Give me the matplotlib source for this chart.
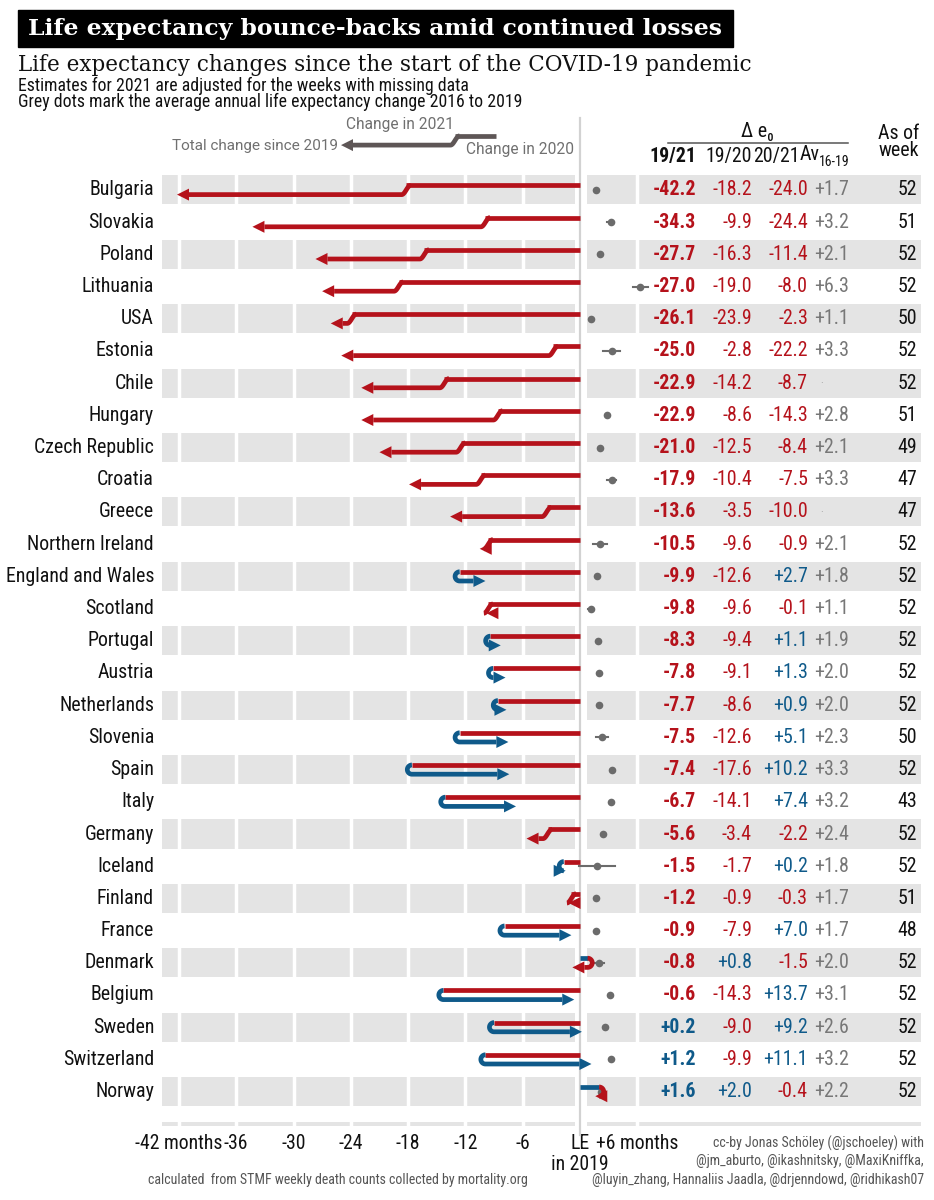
import numpy as np
import matplotlib.pyplot as plt
from matplotlib.patches import Rectangle

# Data (changes in months of life expectancy)
countries = ['Bulgaria', 'Slovakia', 'Poland', 'Lithuania', 'USA', 'Estonia', 'Chile',
             'Hungary', 'Czech Republic', 'Croatia', 'Greece', 'Northern Ireland',
             'England and Wales', 'Scotland', 'Portugal', 'Austria', 'Netherlands',
             'Slovenia', 'Spain', 'Italy', 'Germany', 'Iceland', 'Finland', 'France',
             'Denmark', 'Belgium', 'Sweden', 'Switzerland', 'Norway']
chg_1921 = [-42.2, -34.3, -27.7, -27.0, -26.1, -25.0, -22.9, -22.9, -21.0, -17.9, -13.6,
            -10.5, -9.9, -9.8, -8.3, -7.8, -7.7, -7.5, -7.4, -6.7, -5.6, -1.5, -1.2,
            -0.9, -0.8, -0.6, 0.2, 1.2, 1.6]
chg_1920 = [-18.2, -9.9, -16.3, -19.0, -23.9, -2.8, -14.2, -8.6, -12.5, -10.4, -3.5,
            -9.6, -12.6, -9.6, -9.4, -9.1, -8.6, -12.6, -17.6, -14.1, -3.4, -1.7, -0.9,
            -7.9, 0.8, -14.3, -9.0, -9.9, 2.0]
chg_2021 = [-24.0, -24.4, -11.4, -8.0, -2.3, -22.2, -8.7, -14.3, -8.4, -7.5, -10.0,
            -0.9, 2.7, -0.1, 1.1, 1.3, 0.9, 5.1, 10.2, 7.4, -2.2, 0.2, -0.3, 7.0, -1.5,
            13.7, 9.2, 11.1, -0.4]
av_1619 = [1.7, 3.2, 2.1, 6.3, 1.1, 3.3, np.nan, 2.8, 2.1, 3.3, np.nan, 2.1, 1.8, 1.1,
           1.9, 2.0, 2.0, 2.3, 3.3, 3.2, 2.4, 1.8, 1.7, 1.7, 2.0, 3.1, 2.6, 3.2, 2.2]
av_err = [0, 0.4, 0, 0.8, 0, 0.9, 0, 0, 0, 0.5, 0, 0.7, 0, 0.3, 0, 0, 0, 0.6, 0, 0, 0,
          1.9, 0, 0, 0.5, 0, 0, 0, 0]
as_of_week = [52, 51, 52, 52, 50, 52, 52, 51, 49, 47, 47, 52, 52, 52, 52, 52, 52, 50,
              52, 43, 52, 52, 51, 48, 52, 52, 52, 52, 52]
xticks = [-42, -36, -30, -24, -18, -12, -6, 0, 6]
xtick_labels = ['-42 months', '-36', '-30', '-24', '-18', '-12', '-6', 'LE', '+6 months']

RED = '#b5121b'
BLUE = '#0f5a8a'
DOT = '#6b6b6b'
STRIPE = '#e4e4e4'
LEG = '#5e5656'
FS = 14.3

COND = ['Roboto Condensed', 'Liberation Sans Narrow', 'DejaVu Sans']
plt.rcParams['font.family'] = COND

# pixel geometry of the panel
PX_MONTH = 9.55
PX_ROW = 32.2
X0, Y0 = 580, 190


def mx(px):
    # figure pixel -> months
    return (px - X0) / PX_MONTH


def ry(py):
    # figure pixel -> row
    return (py - Y0) / PX_ROW


fig = plt.figure(figsize=(9.34, 12), dpi=100)
ax = fig.add_axes([160 / 934, 1 - 1128 / 1200, 765 / 934, (1128 - 110) / 1200])
ax.set_xlim(mx(160), mx(925))
ax.set_ylim(ry(1128), ry(110))
for s in ax.spines.values():
    s.set_visible(False)
ax.set_yticks([])
ax.set_xticks(xticks)
ax.set_xticklabels(xtick_labels, fontsize=14.2, color='#111111')
ax.tick_params(axis='x', length=0, pad=4)
# nudge the last tick label so it does not run into "LE"
ax.get_xticklabels()[-1].set_x(6.7)
ax.text(0, ry(1164), 'in 2019', ha='center', va='center', fontsize=14.2, color='#111111')

# background stripes
n = len(countries)
sh = 29 / PX_ROW
for i in range(0, n, 2):
    ax.add_patch(Rectangle((mx(162), i - sh / 2), mx(575) - mx(162), sh, color=STRIPE, lw=0, zorder=0))
    ax.add_patch(Rectangle((mx(587), i - sh / 2), mx(921) - mx(587), sh, color=STRIPE, lw=0, zorder=0))
bh = 4 / PX_ROW
ax.add_patch(Rectangle((mx(162), n - bh / 2), mx(575) - mx(162), bh, color=STRIPE, lw=0, zorder=0))
ax.add_patch(Rectangle((mx(587), n - bh / 2), mx(921) - mx(587), bh, color=STRIPE, lw=0, zorder=0))
for g in [-42, -36, -30, -24, -18, -12, -6, 6]:
    ax.axvline(g, color='white', lw=2.5, zorder=1)

# LE 2019 line
ax.plot([0, 0], [ry(118), ry(1135)], color='#d2d2d2', lw=1.6, zorder=2, clip_on=False)

LW = 3.4
R = 4.6   # half gap between upper and lower line (px)
W = 9     # width of S step (px)
HL = 12   # arrow head length (px)
HW = 6    # arrow head half width (px)


def draw_arrow(yc, x0, a, tot, c1, c2):
    y_up = yc - R / PX_ROW
    y_lo = yc + R / PX_ROW
    d1 = np.sign(a - x0) or 1
    d2 = np.sign(tot - a) or d1
    ax.plot([x0, a], [y_up, y_up], color=c1, lw=LW, solid_capstyle='butt', zorder=4)
    if d1 == d2:
        s = np.linspace(0, 1, 25)
        xs = a + d1 * (W / PX_MONTH) * (s - 0.5)
        ys = y_up + (y_lo - y_up) * (1 - np.cos(np.pi * s)) / 2
    else:
        t = np.linspace(0, np.pi, 30)
        xs = a + d1 * (R / PX_MONTH) * np.sin(t)
        ys = yc - (R / PX_ROW) * np.cos(t)
    base = tot - d2 * HL / PX_MONTH
    if d2 * (base - xs[-1]) > 0:
        xs = np.append(xs, base)
        ys = np.append(ys, y_lo)
    ax.plot(xs, ys, color=c2, lw=LW, solid_capstyle='butt', zorder=4)
    ax.fill([tot, base, base], [y_lo, y_lo - HW / PX_ROW, y_lo + HW / PX_ROW],
            color=c2, lw=0, zorder=5)


def fmt(v):
    return f'{v:+.1f}'


for i, c in enumerate(countries):
    a, b, tot = chg_1920[i], chg_2021[i], chg_1921[i]
    col1 = RED if a < 0 else BLUE
    col2 = RED if b < 0 else BLUE
    draw_arrow(i, 0, a, tot, col1, col2)

    ax.text(mx(154), i, c, ha='right', va='center', fontsize=FS, color='#111111')

    # average annual change 2016-2019
    if not np.isnan(av_1619[i]):
        if av_err[i] > 0:
            ax.plot([av_1619[i] - av_err[i], av_1619[i] + av_err[i]], [i, i], color=DOT, lw=1.5, zorder=3)
        ax.plot(av_1619[i], i, 'o', color=DOT, ms=5.5, mec='none', zorder=3)

    # table
    ax.text(mx(696), i, fmt(tot), ha='right', va='center', fontsize=FS, fontweight='bold',
            color=RED if tot < 0 else BLUE)
    ax.text(mx(752), i, fmt(a), ha='right', va='center', fontsize=FS, color=col1)
    ax.text(mx(808), i, fmt(b), ha='right', va='center', fontsize=FS, color=col2)
    if np.isnan(av_1619[i]):
        ax.text(mx(822), i, '·', ha='center', va='center', fontsize=8, color='#999999')
    else:
        ax.text(mx(849), i, fmt(av_1619[i]), ha='right', va='center', fontsize=FS, color='#777777')
    ax.text(mx(917), i, str(as_of_week[i]), ha='right', va='center', fontsize=FS, color='#111111')

# table header
ax.text(mx(757), ry(132), 'Δ e₀', ha='center', va='center', fontsize=FS, color='#111111')
ax.plot([mx(668), mx(848)], [ry(143), ry(143)], color='#555555', lw=1.1, clip_on=False)
ax.text(mx(696), ry(157), '19/21', ha='right', va='center', fontsize=FS, fontweight='bold', color='#111111')
ax.text(mx(752), ry(157), '19/20', ha='right', va='center', fontsize=FS, color='#111111')
ax.text(mx(800), ry(157), '20/21', ha='right', va='center', fontsize=FS, color='#111111')
ax.text(mx(800), ry(155), 'Av', ha='left', va='center', fontsize=FS, color='#111111')
ax.text(mx(819), ry(162), '16-19', ha='left', va='center', fontsize=10, color='#111111')
ax.text(mx(899), ry(142), 'As of\nweek', ha='center', va='center', fontsize=FS,
        linespacing=0.85, color='#111111')

# legend arrow
draw_arrow(ry(140.5), mx(496), mx(455), mx(341), LEG, LEG)
ax.text(mx(400), ry(125), 'Change in 2021', ha='center', va='center', fontsize=11.2,
        family='Roboto', color='#707070')
ax.text(mx(338), ry(146), 'Total change since 2019', ha='right', va='center', fontsize=11,
        family='Roboto', color='#707070')
ax.text(mx(466), ry(150), 'Change in 2020', ha='left', va='center', fontsize=11.2,
        family='Roboto', color='#707070')

# titles
fig.patches.append(Rectangle((18 / 934, 1 - 47 / 1200), 715 / 934, 37 / 1200,
                             transform=fig.transFigure, color='black', zorder=0))
fig.text(28 / 934, 1 - 29 / 1200, 'Life expectancy bounce-backs amid continued losses',
         ha='left', va='center', fontsize=16.9, fontweight='bold', family='DejaVu Serif', color='white')
fig.text(18 / 934, 1 - 65 / 1200, 'Life expectancy changes since the start of the COVID-19 pandemic',
         ha='left', va='center', fontsize=15.5, family='DejaVu Serif', color='#111111')
fig.text(18 / 934, 1 - 86 / 1200, 'Estimates for 2021 are adjusted for the weeks with missing data',
         ha='left', va='center', fontsize=12.8, color='#111111')
fig.text(18 / 934, 1 - 102 / 1200, 'Grey dots mark the average annual life expectancy change 2016 to 2019',
         ha='left', va='center', fontsize=12.8, color='#111111')

# footer
fig.text(338 / 934, 1 - 1180 / 1200, 'calculated  from STMF weekly death counts collected by mortality.org',
         ha='center', va='center', fontsize=10, color='#555555')
credits = ['cc-by Jonas Schöley (@jschoeley) with',
           '@jm_aburto, @ikashnitsky, @MaxiKniffka,',
           '@luyin_zhang, Hannaliis Jaadla, @drjenndowd, @ridhikash07']
for k, line in enumerate(credits):
    fig.text(924 / 934, 1 - (1143 + 18.5 * k) / 1200, line, ha='right', va='center',
             fontsize=10, color='#555555')

fig.savefig('out.png', dpi=100)
